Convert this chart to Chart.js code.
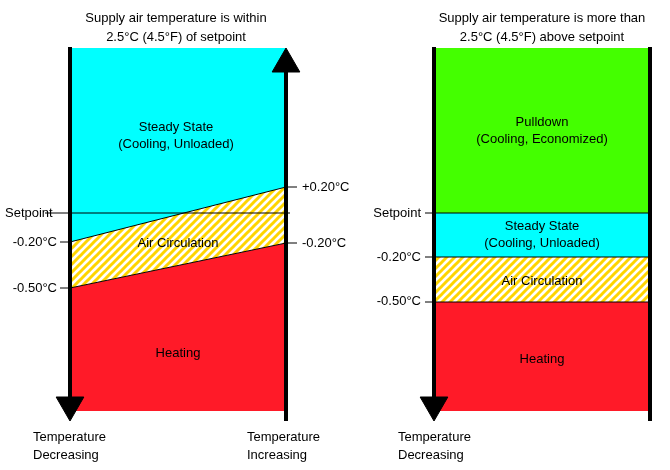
<!DOCTYPE html>
<html>
<head>
<meta charset="utf-8">
<script src="https://cdn.jsdelivr.net/npm/chart.js@4"></script>
<style>body{margin:0;background:#fff}</style>
</head>
<body>
<canvas id="chart" width="670" height="470"></canvas>
<script>
// diagram levels (y grows downward, in page units)
const topY = 48;
const bottomY = 411;
const leftX = [70, 286];
const leftUpper = [242, 187];   // -0.20°C -> +0.20°C boundary
const leftLower = [288, 243];   // -0.50°C -> -0.20°C boundary
const setpointY = 213;
const rightX = [434, 650];
const rightLevels = [213, 257, 302]; // setpoint, -0.20°C, -0.50°C

function stripes() {
  const c = document.createElement('canvas');
  c.width = 8; c.height = 8;
  const g = c.getContext('2d');
  g.fillStyle = '#fff'; g.fillRect(0, 0, 8, 8);
  g.strokeStyle = '#FFD500'; g.lineWidth = 3;
  for (let o = -8; o <= 16; o += 8) {
    g.beginPath(); g.moveTo(o - 4, 12); g.lineTo(o + 12, -4); g.stroke();
  }
  return g.createPattern(c, 'repeat');
}
const hatch = stripes();

function seg(xs, ys) { return xs.map((x, i) => ({ x, y: ys[i] })); }
function area(xs, ys, bg, fill, bw) {
  return { data: seg(xs, ys), showLine: true, pointRadius: 0, backgroundColor: bg,
    borderColor: '#000', borderWidth: bw, fill, order: 10, clip: false };
}
function line(pts, w) {
  return { data: pts, showLine: true, pointRadius: 0, borderColor: '#000', borderWidth: w,
    fill: false, order: 2, clip: false };
}
function arrow(x, y, rot) {
  return { data: [{ x, y }], pointStyle: 'triangle', pointRadius: 16, rotation: rot,
    backgroundColor: '#000', borderColor: '#000', borderWidth: 1, order: 1, clip: false };
}

const datasets = [
  area(leftX, leftUpper, '#00FFFF', { value: topY }, 1),
  area(leftX, leftLower, hatch, '-1', 1),
  area(leftX, leftLower, '#FF1A28', { value: bottomY }, 0),
  area(rightX, [rightLevels[0], rightLevels[0]], '#44FF00', { value: topY }, 1),
  area(rightX, [rightLevels[1], rightLevels[1]], '#00FFFF', '-1', 1),
  area(rightX, [rightLevels[2], rightLevels[2]], hatch, '-1', 1),
  area(rightX, [rightLevels[2], rightLevels[2]], '#FF1A28', { value: bottomY }, 0),
  line([{ x: 45, y: setpointY }, { x: 290, y: setpointY }], 1),
  line([{ x: 60, y: leftUpper[0] }, { x: 70, y: leftUpper[0] }], 1),
  line([{ x: 60, y: leftLower[0] }, { x: 70, y: leftLower[0] }], 1),
  line([{ x: 286, y: leftUpper[1] }, { x: 297, y: leftUpper[1] }], 1),
  line([{ x: 286, y: leftLower[1] }, { x: 297, y: leftLower[1] }], 1),
  ...rightLevels.map(v => line([{ x: 425, y: v }, { x: 434, y: v }], 1)),
  line([{ x: leftX[0], y: topY - 1 }, { x: leftX[0], y: 400 }], 4),
  line([{ x: leftX[1], y: 70 }, { x: leftX[1], y: 421 }], 4),
  line([{ x: rightX[0], y: topY - 1 }, { x: rightX[0], y: 400 }], 4),
  line([{ x: rightX[1], y: topY - 1 }, { x: rightX[1], y: 421 }], 4),
  arrow(leftX[0], 405, 180),
  arrow(leftX[1], 64, 0),
  arrow(rightX[0], 405, 180)
];

const labels = [
  ['Supply air temperature is within', 176, 18, 'center'],
  ['2.5°C (4.5°F) of setpoint', 176, 37, 'center'],
  ['Supply air temperature is more than', 542, 18, 'center'],
  ['2.5°C (4.5°F) above setpoint', 542, 37, 'center'],
  ['Steady State', 176, 127, 'center'],
  ['(Cooling, Unloaded)', 176, 144, 'center'],
  ['Air Circulation', 178, 243, 'center'],
  ['Heating', 178, 353, 'center'],
  ['Setpoint', 5, 213, 'left'],
  ['-0.20°C', 57, 242, 'right'],
  ['-0.50°C', 57, 288, 'right'],
  ['+0.20°C', 302, 187, 'left'],
  ['-0.20°C', 302, 243, 'left'],
  ['Pulldown', 542, 122, 'center'],
  ['(Cooling, Economized)', 542, 139, 'center'],
  ['Setpoint', 421, 213, 'right'],
  ['Steady State', 542, 226, 'center'],
  ['(Cooling, Unloaded)', 542, 243, 'center'],
  ['-0.20°C', 421, 257, 'right'],
  ['-0.50°C', 421, 301, 'right'],
  ['Air Circulation', 542, 281, 'center'],
  ['Heating', 542, 359, 'center'],
  ['Temperature', 33, 437, 'left'],
  ['Decreasing', 33, 455, 'left'],
  ['Temperature', 247, 437, 'left'],
  ['Increasing', 247, 455, 'left'],
  ['Temperature', 398, 437, 'left'],
  ['Decreasing', 398, 455, 'left']
];

const textPlugin = {
  id: 'texts',
  afterDraw(chart) {
    const { ctx, scales: { x, y } } = chart;
    ctx.save();
    ctx.fillStyle = '#000';
    ctx.font = '13px "Liberation Sans", Arial, sans-serif';
    ctx.textBaseline = 'middle';
    labels.forEach(([t, lx, ly, al]) => {
      ctx.textAlign = al;
      ctx.fillText(t, x.getPixelForValue(lx), y.getPixelForValue(ly));
    });
    ctx.restore();
  }
};

new Chart(document.getElementById('chart'), {
  type: 'scatter',
  data: { datasets },
  options: {
    responsive: false,
    animation: false,
    layout: { padding: 0, autoPadding: false },
    plugins: { legend: { display: false }, tooltip: { enabled: false } },
    scales: {
      x: { type: 'linear', min: 0, max: 670, display: false },
      y: { type: 'linear', min: 0, max: 470, reverse: true, display: false }
    }
  },
  plugins: [textPlugin]
});
</script>
</body>
</html>
